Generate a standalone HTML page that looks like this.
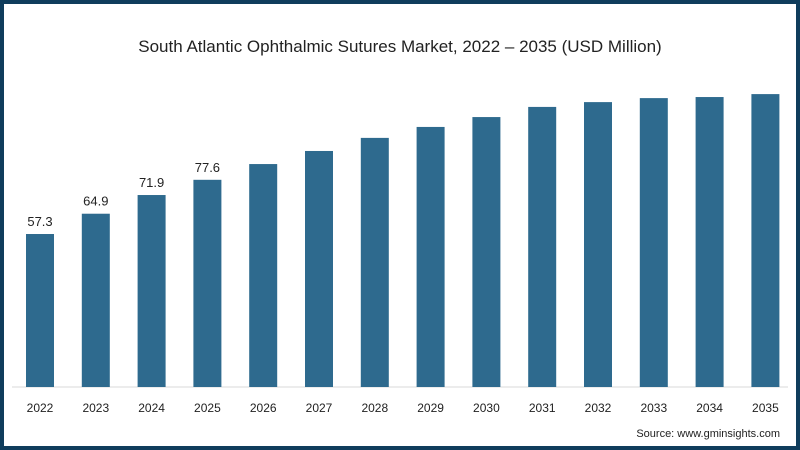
<!DOCTYPE html>
<html><head><meta charset="utf-8"><style>
html,body{margin:0;padding:0;background:#fff}
#wrap{position:relative;width:800px;height:450px;box-sizing:border-box;border:4px solid #0f3d5c;background:#fff;font-family:"Liberation Sans",sans-serif}
svg{position:absolute;left:-4px;top:-4px}
</style></head><body>
<div id="wrap">
<svg id="chart" width="800" height="450">
<text x="400" y="52" text-anchor="middle" font-size="17" fill="#222">South Atlantic Ophthalmic Sutures Market, 2022 – 2035 (USD Million)</text>
<line x1="12" y1="387" x2="788" y2="387" stroke="#d8d8d8" stroke-width="1"/>
<text x="780" y="437" text-anchor="end" font-size="11" fill="#222">Source: www.gminsights.com</text>
</svg>
</div>
<script>
const categories = ["2022","2023","2024","2025","2026","2027","2028","2029","2030","2031","2032","2033","2034","2035"];
const values = [57.3,64.9,71.9,77.6,83.5,88.4,93.3,97.4,101.1,104.9,106.7,108.2,108.6,109.7];
const valueLabels = ["57.3","64.9","71.9","77.6","","","","","","","","","",""];
const svg = document.getElementById('chart');
const NS = 'http://www.w3.org/2000/svg';
const baseY = 387, pxPerUnit = 2.67, x0 = 40, step = 55.8, bw = 28;
const xScale = i => x0 + i*step;
const yScale = v => baseY - v*pxPerUnit;
categories.forEach((c,i)=>{
  const cx = xScale(i), top = yScale(values[i]);
  const r = document.createElementNS(NS,'rect');
  r.setAttribute('x', cx-bw/2); r.setAttribute('y', top);
  r.setAttribute('width', bw); r.setAttribute('height', baseY-top);
  r.setAttribute('fill', '#2e6a8e');
  
  
  svg.appendChild(r);
  const t = document.createElementNS(NS,'text');
  t.setAttribute('x', cx); t.setAttribute('y', 412);
  t.setAttribute('text-anchor','middle'); t.setAttribute('font-size','12'); t.setAttribute('fill','#222');
  t.textContent = c;
  
  
  svg.appendChild(t);
  if (valueLabels[i]) {
    const v = document.createElementNS(NS,'text');
    v.setAttribute('x', cx); v.setAttribute('y', top-8);
    v.setAttribute('text-anchor','middle'); v.setAttribute('font-size','13'); v.setAttribute('fill','#222');
    v.textContent = valueLabels[i];
    
    
    svg.appendChild(v);
  }
});
</script>
</body></html>
